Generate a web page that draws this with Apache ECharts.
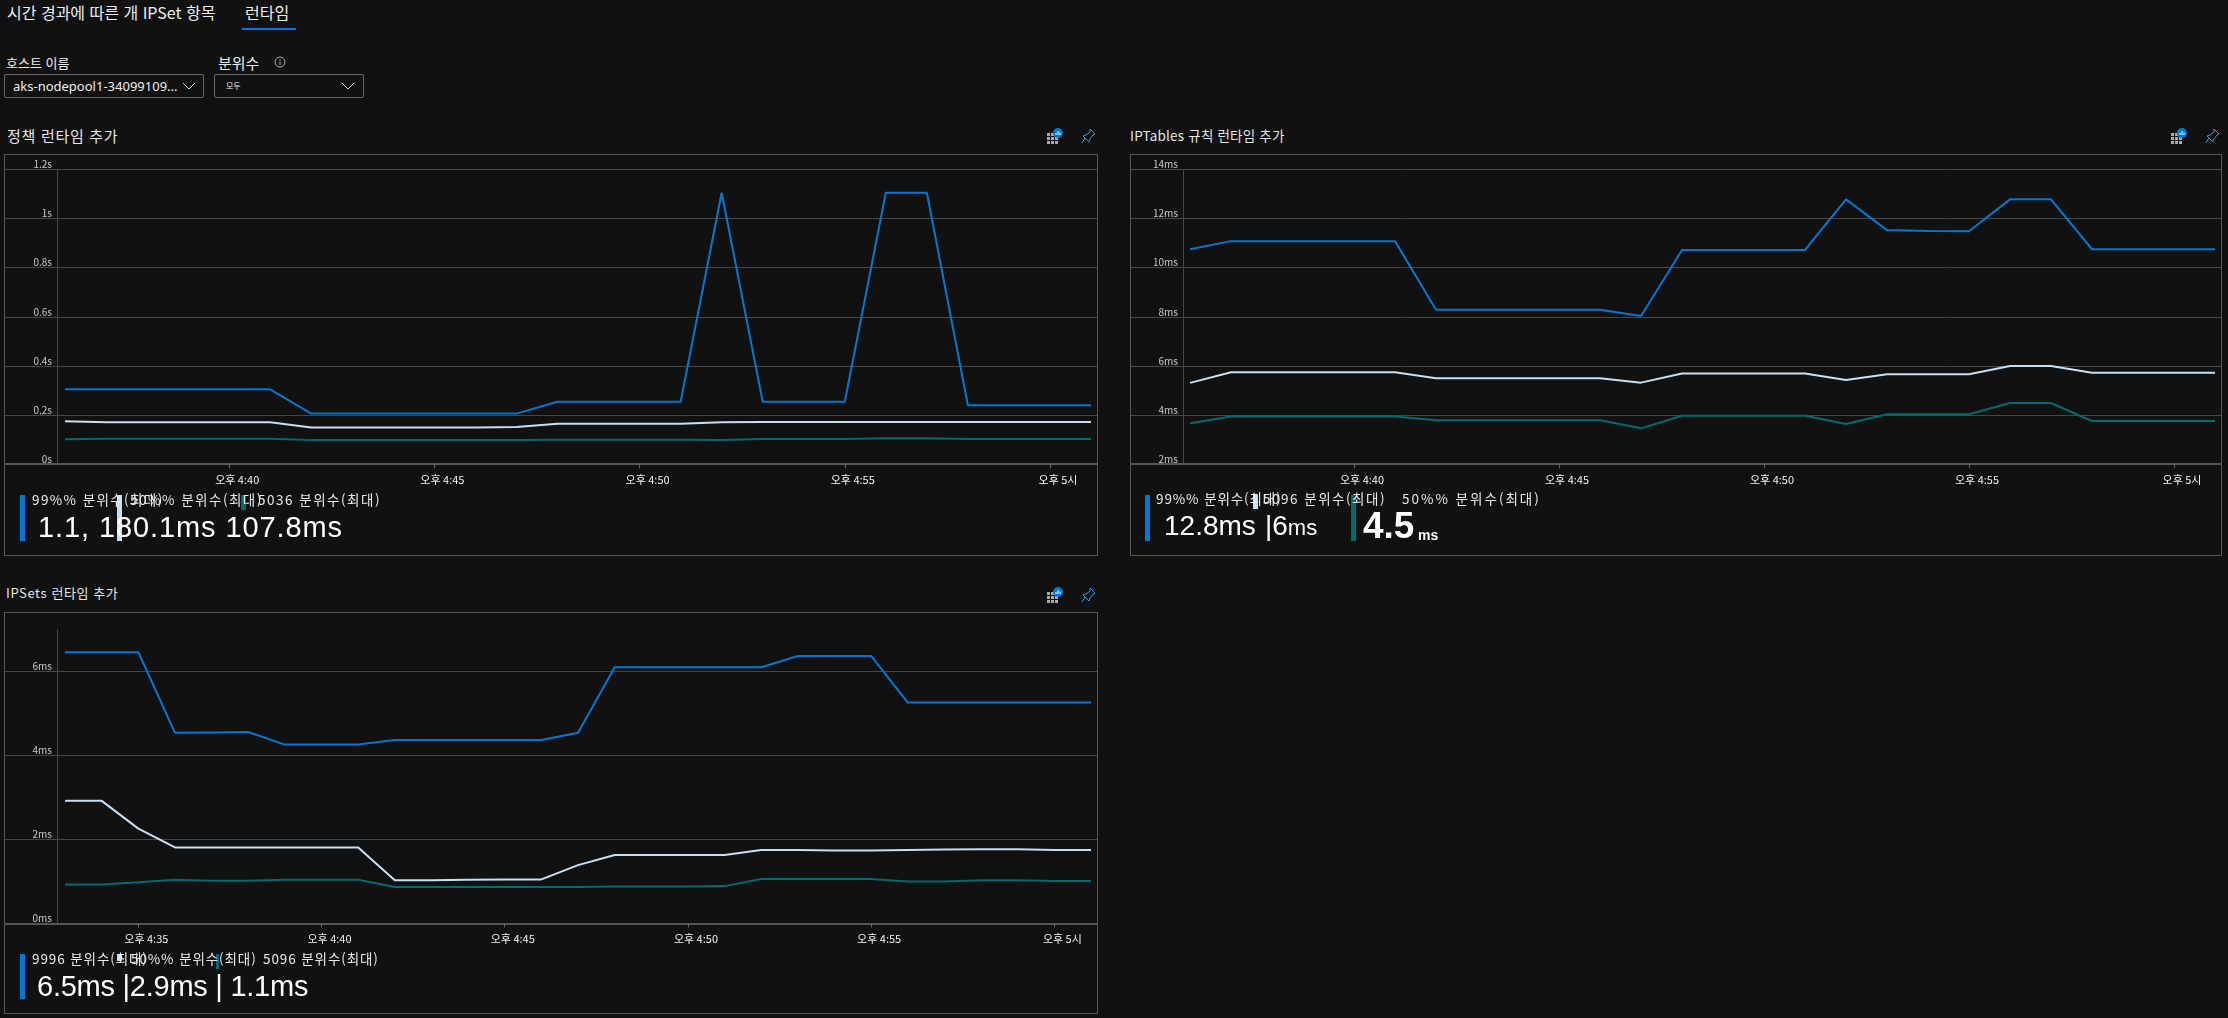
<!DOCTYPE html>
<html lang="ko">
<head>
<meta charset="utf-8">
<title>런타임</title>
<script src="https://cdn.jsdelivr.net/npm/echarts@6/dist/echarts.min.js"></script>
<style>
  html, body { margin: 0; background: #111111; }
  body { position: relative; width: 2228px; height: 1018px; overflow: hidden; color: #fff; font-family: "Noto Sans CJK KR", "Noto Sans", sans-serif; }
  .abs { position: absolute; white-space: nowrap; line-height: 1; }
  .tab { font-size: 16px; top: 4px; color: #eee; }
  .underline { left: 242px; top: 28px; width: 54px; height: 2px; background: #0078d4; }
  .field { top: 56px; font-size: 13px; color: #eee; }
  .select { top: 74px; height: 24px; box-sizing: border-box; border: 1px solid #666; border-radius: 2px; }
  .select span { position: absolute; left: 8px; top: 5px; font: 13px "Noto Sans", sans-serif; line-height: 1; color: #eee; }
  .select svg { position: absolute; top: 7px; }
  .panel-title { color: #e6e6e6; }
  .panel { position: absolute; box-sizing: border-box; width: 1094px; height: 402px; border: 1px solid #565656; }
  .chart { position: absolute; left: 0; top: 0; width: 100%; height: 100%; }
  .stat-name { font-size: 13.5px; color: #e8e8e8; }
  .stat-value { font: 29px "Liberation Sans", sans-serif; line-height: 1; color: #fff; }
  .mark { position: absolute; width: 5px; }
</style>
</head>
<body>
<div class="abs tab" style="left:7px">시간 경과에 따른 개 IPSet 항목</div>
<div class="abs tab" style="left:245px">런타임</div>
<div class="abs underline"></div>

<div class="abs field" style="left:6px">호스트 이름</div>
<div class="abs field" style="left:218px;font-size:15px;top:55px">분위수</div>
<svg class="abs" style="left:274px;top:56px" width="12" height="12"><circle cx="6" cy="6" r="5" fill="none" stroke="#aaa"/><path d="M6 5v4M6 3v1" stroke="#aaa"/></svg>
<div class="abs select" style="left:4px;width:200px"><span>aks-nodepool1-34099109...</span><svg style="left:177px" width="14" height="9"><path d="M1 1l6 6 6-6" fill="none" stroke="#ddd"/></svg></div>
<div class="abs select" style="left:214px;width:150px"><span style="font-size:8px;left:11px;top:7px;font-family:'Noto Sans CJK KR'">모두</span><svg style="left:126px" width="14" height="9"><path d="M1 1l6 6 6-6" fill="none" stroke="#ddd"/></svg></div>

<div class="abs panel-title" style="left:7px;top:128px;font-size:15px;letter-spacing:0.7px">정책 런타임 추가</div>
<div class="abs panel-title" style="left:1130px;top:129px;font-size:13.5px;letter-spacing:0.2px">IPTables 규칙 런타임 추가</div>
<div class="abs panel-title" style="left:6px;top:586px;font-size:13px;letter-spacing:0.6px">IPSets 런타임 추가</div>

<div class="panel" style="left:4px;top:154px"><div class="chart" id="policyChart"></div></div>
<div class="panel" style="left:1130px;top:154px;width:1092px"><div class="chart" id="iptablesChart"></div></div>
<div class="panel" style="left:4px;top:612px"><div class="chart" id="ipsetsChart"></div></div>

<!-- 정책 런타임 -->
<div class="mark" style="left:20px;top:495px;height:46px;background:#0078d4"></div>
<div class="mark" style="left:117px;top:495px;height:46px;background:#c7e0f4"></div>
<div class="mark" style="left:241px;top:495px;height:15px;background:#006b72"></div>
<div class="abs stat-name" style="left:32px;top:493px;letter-spacing:1.4px">99%% 분위수(최대)</div>
<div class="abs stat-name" style="left:130px;top:493px;letter-spacing:1.5px">50%% 분위수(최대)</div>
<div class="abs stat-name" style="left:258px;top:493px;letter-spacing:1.5px">5036 분위수(최대)</div>
<div class="abs stat-value" style="left:38px;top:513px;letter-spacing:0.9px">1.1, 180.1ms 107.8ms</div>

<!-- IPTables 규칙 런타임 -->
<div class="mark" style="left:1145px;top:495px;height:46px;background:#0078d4"></div>
<div class="mark" style="left:1253px;top:495px;height:14px;background:#c7e0f4"></div>
<div class="mark" style="left:1351px;top:495px;height:46px;background:#006b72"></div>
<div class="abs stat-name" style="left:1156px;top:492px;letter-spacing:0.9px">99%% 분위수(최대)</div>
<div class="abs stat-name" style="left:1263px;top:492px;letter-spacing:1.5px">5096 분위수(최대)</div>
<div class="abs stat-name" style="left:1402px;top:492px;letter-spacing:2px">50%% 분위수(최대)</div>
<div class="abs stat-value" style="left:1164px;top:512px;font-size:28px">12.8ms</div>
<div class="abs stat-value" style="left:1265px;top:512px;font-size:28px">|6<span style="font-size:22px">ms</span></div>
<div class="abs stat-value" style="left:1363px;top:507px;font-size:37px;font-weight:bold">4.5</div>
<div class="abs" style="left:1418px;top:527px;font:bold 14px 'Liberation Sans',sans-serif">ms</div>

<!-- IPSets 런타임 -->
<div class="mark" style="left:20px;top:954px;height:45px;background:#0078d4"></div>
<div class="mark" style="left:117px;top:954px;height:7px;background:#c7e0f4"></div>
<div class="mark" style="left:216px;top:954px;height:15px;width:3px;background:#006b72"></div>
<div class="abs stat-name" style="left:32px;top:952px;letter-spacing:0.9px">9996 분위수(최대)</div>
<div class="abs stat-name" style="left:131px;top:952px;letter-spacing:0.9px">50%% 분위수(최대)</div>
<div class="abs stat-name" style="left:263px;top:952px;letter-spacing:0.9px">5096 분위수(최대)</div>
<div class="abs stat-value" style="left:37px;top:972px;letter-spacing:-0.25px">6.5ms |2.9ms | 1.1ms</div>

<script>
const BLUE = '#0078d4'
const LIGHT = '#c7e0f4'
const TEAL = '#006b72'
const GRID_LINE = '#474747'

// x 값은 자정부터의 분 (996 = 오후 4:36)
const runtimeMinutes = [996, 997, 998, 999, 1000, 1001, 1002, 1003, 1004, 1005, 1006, 1007, 1008, 1009, 1010, 1011, 1012, 1013, 1014, 1015, 1016, 1017, 1018, 1019, 1020, 1021]
const ipsetMinutes = [993, 994, 995, 996, 997, 998, 999, 1000, 1001, 1002, 1003, 1004, 1005, 1006, 1007, 1008, 1009, 1010, 1011, 1012, 1013, 1014, 1015, 1016, 1017, 1018, 1019, 1020, 1021]
const runtimeTicks = [1000, 1005, 1010, 1015, 1020]
const runtimeTickLabels = ['오후 4:40', '오후 4:45', '오후 4:50', '오후 4:55', '오후 5시']
const ipsetTicks = [995, 1000, 1005, 1010, 1015, 1020]
const ipsetTickLabels = ['오후 4:35', '오후 4:40', '오후 4:45', '오후 4:50', '오후 4:55', '오후 5시']

// 정책 런타임 (s)
const policyP99 = [0.305, 0.305, 0.305, 0.305, 0.305, 0.305, 0.206, 0.206, 0.206, 0.206, 0.206, 0.206, 0.254, 0.254, 0.254, 0.254, 1.105, 0.254, 0.254, 0.254, 1.105, 1.105, 0.24, 0.24, 0.24, 0.24]
const policyP90 = [0.175, 0.171, 0.171, 0.171, 0.171, 0.171, 0.149, 0.149, 0.149, 0.149, 0.149, 0.151, 0.165, 0.165, 0.165, 0.165, 0.171, 0.172, 0.172, 0.172, 0.172, 0.172, 0.172, 0.172, 0.172, 0.172]
const policyP50 = [0.102, 0.104, 0.104, 0.104, 0.104, 0.104, 0.098, 0.098, 0.098, 0.098, 0.098, 0.098, 0.1, 0.1, 0.1, 0.1, 0.099, 0.103, 0.103, 0.103, 0.106, 0.106, 0.103, 0.103, 0.103, 0.103]

// IPTables 규칙 런타임 (ms)
const iptablesP99 = [10.75, 11.08, 11.08, 11.08, 11.08, 11.08, 8.29, 8.29, 8.29, 8.29, 8.29, 8.03, 10.72, 10.72, 10.72, 10.72, 12.78, 11.53, 11.49, 11.48, 12.78, 12.78, 10.75, 10.75, 10.75, 10.75]
const iptablesP90 = [5.31, 5.74, 5.74, 5.74, 5.74, 5.74, 5.5, 5.5, 5.5, 5.5, 5.5, 5.32, 5.69, 5.69, 5.69, 5.69, 5.43, 5.66, 5.66, 5.66, 6, 6, 5.72, 5.72, 5.72, 5.72]
const iptablesP50 = [3.67, 3.94, 3.94, 3.94, 3.94, 3.94, 3.79, 3.79, 3.79, 3.79, 3.79, 3.46, 3.97, 3.97, 3.97, 3.97, 3.64, 4.03, 4.03, 4.03, 4.49, 4.49, 3.76, 3.76, 3.76, 3.76]

// IPSets 런타임 (ms)
const ipsetsP99 = [6.46, 6.46, 6.46, 4.54, 4.55, 4.56, 4.26, 4.26, 4.26, 4.37, 4.37, 4.37, 4.37, 4.37, 4.54, 6.1, 6.1, 6.1, 6.1, 6.1, 6.37, 6.37, 6.37, 5.26, 5.26, 5.26, 5.26, 5.26, 5.26]
const ipsetsP90 = [2.92, 2.92, 2.26, 1.81, 1.81, 1.81, 1.81, 1.81, 1.81, 1.03, 1.03, 1.04, 1.05, 1.05, 1.39, 1.63, 1.63, 1.63, 1.63, 1.75, 1.75, 1.74, 1.74, 1.75, 1.76, 1.77, 1.77, 1.75, 1.75]
const ipsetsP50 = [0.93, 0.93, 0.98, 1.04, 1.02, 1.02, 1.04, 1.04, 1.04, 0.87, 0.87, 0.87, 0.87, 0.87, 0.87, 0.88, 0.88, 0.88, 0.89, 1.06, 1.06, 1.06, 1.06, 1, 1, 1.03, 1.03, 1.01, 1.01]

const zip = (xs, ys) => xs.map((x, i) => [x, ys[i]])

const lineSeries = (name, xs, ys, color) => ({
  name,
  type: 'line',
  data: zip(xs, ys),
  showSymbol: false,
  silent: true,
  lineStyle: { color, width: 2 },
  itemStyle: { color }
})

const initChart = (id, cfg) => {
  const chart = echarts.init(document.getElementById(id))
  chart.setOption({
    animation: false,
    backgroundColor: 'transparent',
    textStyle: { fontFamily: '"Noto Sans CJK KR", "Noto Sans", sans-serif' },
    grid: { left: 0, right: 0, top: cfg.gridTop, height: cfg.gridHeight },
    xAxis: {
      type: 'value',
      min: cfg.xMin,
      max: cfg.xMax,
      splitLine: { show: false },
      axisLine: { onZero: false, lineStyle: { color: '#565656', width: 2 } },
      axisTick: { show: true, length: 4, customValues: cfg.ticks, lineStyle: { color: '#666' } },
      axisLabel: {
        customValues: cfg.ticks,
        margin: 10,
        color: '#f2f2f2',
        fontSize: 11,
        padding: [0, 0, 0, 16],
        formatter: (v) => cfg.tickLabels[cfg.ticks.indexOf(v)]
      }
    },
    yAxis: {
      type: 'value',
      min: cfg.yMin,
      max: cfg.yMax,
      interval: cfg.yInterval,
      offset: -52,
      axisLine: { show: true, lineStyle: { color: GRID_LINE } },
      axisTick: { show: false },
      splitLine: { show: true, showMaxLine: cfg.showTop, lineStyle: { color: GRID_LINE } },
      axisLabel: {
        color: '#c8c8c8',
        fontSize: 10,
        margin: 5,
        verticalAlign: 'bottom',
        showMaxLabel: cfg.showTop,
        formatter: (v) => v + cfg.unit
      }
    },
    series: cfg.series
  })
  return chart
}

initChart('policyChart', {
  gridTop: 14.4, gridHeight: 294.8,
  xMin: 994.537, xMax: 1021.146,
  ticks: runtimeTicks, tickLabels: runtimeTickLabels,
  yMin: 0, yMax: 1.2, yInterval: 0.2, unit: 's', showTop: true,
  series: [
    lineSeries('99%', runtimeMinutes, policyP99, BLUE),
    lineSeries('90%', runtimeMinutes, policyP90, LIGHT),
    lineSeries('50%', runtimeMinutes, policyP50, TEAL)
  ]
})

initChart('iptablesChart', {
  gridTop: 14.4, gridHeight: 294.8,
  xMin: 994.561, xMax: 1021.146,
  ticks: runtimeTicks, tickLabels: runtimeTickLabels,
  yMin: 2, yMax: 14, yInterval: 2, unit: 'ms', showTop: true,
  series: [
    lineSeries('99%', runtimeMinutes, iptablesP99, BLUE),
    lineSeries('90%', runtimeMinutes, iptablesP90, LIGHT),
    lineSeries('50%', runtimeMinutes, iptablesP50, TEAL)
  ]
})

initChart('ipsetsChart', {
  gridTop: 16.5, gridHeight: 294,
  xMin: 991.361, xMax: 1021.164,
  ticks: ipsetTicks, tickLabels: ipsetTickLabels,
  yMin: 0, yMax: 7, yInterval: 2, unit: 'ms', showTop: false,
  series: [
    lineSeries('99%', ipsetMinutes, ipsetsP99, BLUE),
    lineSeries('90%', ipsetMinutes, ipsetsP90, LIGHT),
    lineSeries('50%', ipsetMinutes, ipsetsP50, TEAL)
  ]
})
</script>

<!-- 패널 아이콘 -->
<svg width="0" height="0" style="position:absolute">
  <defs>
    <g id="tileIcon">
      <rect x="0" y="5" width="3" height="3" fill="#aaa"/><rect x="4" y="5" width="3" height="3" fill="#aaa"/>
      <rect x="0" y="9" width="3" height="3" fill="#aaa"/><rect x="4" y="9" width="3" height="3" fill="#aaa"/><rect x="8" y="9" width="3" height="3" fill="#aaa"/>
      <rect x="0" y="13" width="3" height="3" fill="#aaa"/><rect x="4" y="13" width="3" height="3" fill="#aaa"/><rect x="8" y="13" width="3" height="3" fill="#aaa"/>
      <circle cx="11" cy="5" r="5" fill="#0078d4"/><path d="M9 7V5M11 7V3M13 7V4.5" stroke="#fff"/>
    </g>
    <path id="pinIcon" d="M9 1l5 5-2 1-3 4-1 3-6-6 3-1 4-3zM4 10l-3 5" fill="none" stroke="#3a96dd"/>
  </defs>
</svg>
<svg class="abs" style="left:1047px;top:128px" width="18" height="17"><use href="#tileIcon"/></svg>
<svg class="abs" style="left:1081px;top:128px" width="16" height="16"><use href="#pinIcon"/></svg>
<svg class="abs" style="left:2171px;top:128px" width="18" height="17"><use href="#tileIcon"/></svg>
<svg class="abs" style="left:2205px;top:128px" width="16" height="16"><use href="#pinIcon"/></svg>
<svg class="abs" style="left:1047px;top:587px" width="18" height="17"><use href="#tileIcon"/></svg>
<svg class="abs" style="left:1081px;top:587px" width="16" height="16"><use href="#pinIcon"/></svg>
</body>
</html>
